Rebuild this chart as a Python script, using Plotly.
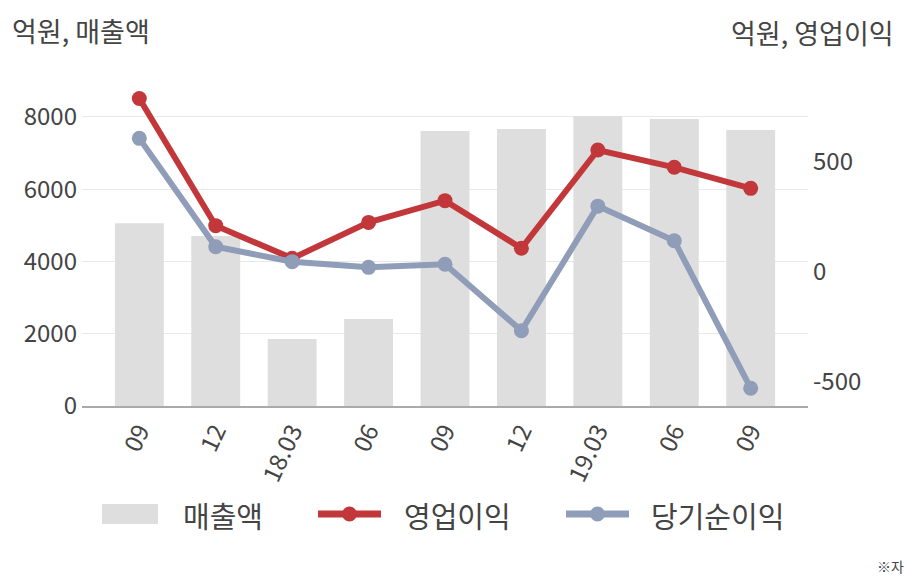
import plotly.graph_objects as go

# ---- data ----
periods = ["09", "12", "18.03", "06", "09", "12", "19.03", "06", "09"]
sales = [5057, 4706, 1855, 2408, 7612, 7668, 8028, 7945, 7640]          # 매출액 (left axis)
op_profit = [790, 210, 61, 225, 324, 107, 555, 476, 380]                 # 영업이익 (right axis)
net_profit = [608, 114, 46, 20, 34, -269, 299, 141, -531]                # 당기순이익 (right axis)
left_ticks = [0, 2000, 4000, 6000, 8000]
right_ticks = [-500, 0, 500]
right_tick_text = ["-500", "0", "500"]
series_names = ["매출액", "영업이익", "당기순이익"]

xpos = list(range(len(periods)))

FONT = "Noto Sans CJK KR"
TXT = "#444444"
RED = "#c1373a"
BLUE = "#909db8"
BAR = "#dedede"

W, H = 908, 580
ML, MR, MT, MB = 82, 100, 80, 174
PW, PH = W - ML - MR, H - MT - MB


def px(x):
    return (x - ML) / PW


def py(y):
    return (H - MB - y) / PH


fig = go.Figure()
fig.add_trace(go.Bar(
    x=xpos, y=sales, name=series_names[0], marker=dict(color=BAR, line=dict(width=0)),
    width=0.64, yaxis="y",
))
fig.add_trace(go.Scatter(
    x=xpos, y=op_profit, name=series_names[1], mode="lines+markers",
    line=dict(color=RED, width=6), marker=dict(color=RED, size=15),
    yaxis="y2",
))
fig.add_trace(go.Scatter(
    x=xpos, y=net_profit, name=series_names[2], mode="lines+markers",
    line=dict(color=BLUE, width=6), marker=dict(color=BLUE, size=15),
    yaxis="y2",
))

# ---- custom legend (wide swatches like the reference) ----
shapes = [
    dict(type="rect", xref="paper", yref="paper",
         x0=px(102), x1=px(158), y0=py(524), y1=py(504),
         fillcolor=BAR, line=dict(width=0)),
]
for (x0, x1, col) in [(318, 381, RED), (566, 629, BLUE)]:
    cx = (x0 + x1) / 2
    shapes.append(dict(type="line", xref="paper", yref="paper",
                       x0=px(x0), x1=px(x1), y0=py(514), y1=py(514),
                       line=dict(color=col, width=7)))
    shapes.append(dict(type="circle", xref="paper", yref="paper",
                       x0=px(cx - 7.5), x1=px(cx + 7.5), y0=py(521.5), y1=py(506.5),
                       fillcolor=col, line=dict(width=0)))

annotations = [
    dict(text="억원, 매출액", x=px(10), y=py(31), xanchor="left"),
    dict(text="억원, 영업이익", x=px(896), y=py(33), xanchor="right"),
]
for a in annotations:
    a.update(xref="paper", yref="paper", yanchor="middle", showarrow=False,
             font=dict(size=27, color=TXT, family=FONT))

for name, lx in zip(series_names, [181, 402, 649]):
    annotations.append(dict(text=name, xref="paper", yref="paper",
                            x=px(lx), y=py(515), xanchor="left", yanchor="middle",
                            showarrow=False, font=dict(size=29, color=TXT, family=FONT)))

annotations.append(dict(text="※자", xref="paper", yref="paper",
                        x=px(906), y=py(566), xanchor="right", yanchor="middle",
                        showarrow=False, font=dict(size=14, color=TXT, family=FONT)))

fig.update_layout(
    width=W, height=H,
    margin=dict(l=ML, r=MR, t=MT, b=MB),
    paper_bgcolor="white", plot_bgcolor="white",
    font=dict(family=FONT, color=TXT, size=24),
    showlegend=False,
    xaxis=dict(
        range=[-0.75, len(periods) - 0.25],
        tickmode="array", tickvals=xpos, ticktext=periods,
        tickangle=-65, showgrid=False, zeroline=False,
        showline=True, linecolor="#aaaaaa", linewidth=1.5,
        ticks="", tickfont=dict(size=24, color=TXT),
    ),
    yaxis=dict(
        range=[0, 9024], tickmode="array", tickvals=left_ticks,
        showgrid=True, gridcolor="#e8e8e8", gridwidth=1,
        zeroline=False, showline=False, ticks="",
        ticklabelstandoff=4,
        tickfont=dict(size=24, color=TXT),
    ),
    yaxis2=dict(
        range=[-612, 874], overlaying="y", side="right",
        tickmode="array", tickvals=right_ticks, ticktext=right_tick_text,
        showgrid=False, zeroline=False, showline=False, ticks="",
        ticklabelstandoff=4,
        tickfont=dict(size=24, color=TXT),
    ),
    shapes=shapes,
    annotations=annotations,
)

fig.write_html("out.html")
